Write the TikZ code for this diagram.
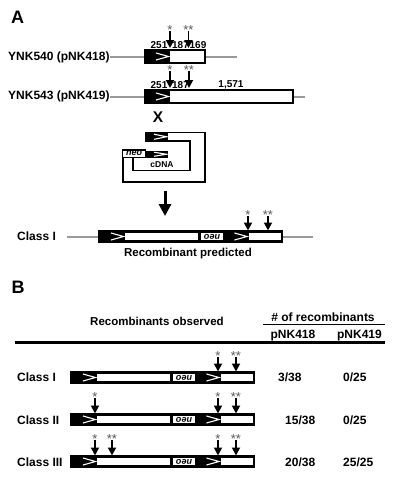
\documentclass[tikz,border=0pt]{standalone}
\usepackage{fontspec}
\setmainfont{Liberation Sans}
\usetikzlibrary{arrows.meta}
\tikzset{
 lbl/.style={font=\fontsize{12}{14}\selectfont\bfseries, inner sep=0pt},
 num/.style={font=\fontsize{10}{12}\selectfont\bfseries, inner sep=0pt},
 star/.style={font=\fontsize{13}{15}\selectfont, text=black!65, inner sep=0pt, anchor=base},
 grayline/.style={draw=black!40, line width=2pt},
 sarrow/.style={-{Triangle[width=8pt,length=8pt]}, line width=1.8pt},
 chevron/.style={draw=white, line width=1.1pt, line join=miter},
 neotxt/.style={font=\fontsize{9}{10}\selectfont\bfseries\itshape, inner sep=0pt},
 loopline/.style={line width=1.3pt},
}
\newcommand{\mkchev}[3]{\draw[chevron] ({#1-14},{#2+(#3-#2)*0.23}) -- ({#1-1.5},{(#2+#3)/2}) -- ({#1-14},{#3-(#3-#2)*0.23});}
\newcommand{\topgene}[3]{%
 \fill[white] (#1,#3) rectangle (#2,{#3+13});
 \fill[black] (#1,#3) rectangle ({#1+25},{#3+13});
 \mkchev{#1+25}{#3}{#3+13}
 \draw[line width=1.5pt] (#1,#3) rectangle (#2,{#3+13});
}
\newcommand{\clbar}[2]{%
 \fill[black] (#1,#2) rectangle ({#1+185},{#2+13});
 \fill[white] ({#1+27},{#2+2.7}) rectangle ({#1+100},{#2+10.3});
 \fill[white] ({#1+150.5},{#2+2.7}) rectangle ({#1+182.5},{#2+10.3});
 \fill[white] ({#1+103},{#2+3.2}) rectangle ({#1+125},{#2+9.8});
 \node[neotxt, rotate=180] at ({#1+114},{#2+6.5}) {neo};
 \mkchev{#1+27}{#2}{#2+13}
 \mkchev{#1+150.5}{#2}{#2+13}
}
\begin{document}
\begin{tikzpicture}[x=1pt,y=-1pt]
\useasboundingbox (0,0) rectangle (403,480);
% ---------- A ----------
\node[font=\fontsize{18}{20}\selectfont\bfseries, inner sep=0pt] (A) at (17.5,17) {A};
% row 1
\node[lbl, anchor=west] (l540) at (8,57.5) {YNK540 (pNK418)};
\coordinate (e540) at (237,56.5);
\draw[grayline] (l540.east |- 0,56.5) -- (e540);
\topgene{145}{205}{50}
\node[num] (n1a) at (159,45) {251};
\node[num] (n1b) at (180.5,45) {187};
\node[num] (n1c) at (198,45) {169};
\draw[sarrow] (170,31) -- (170,48);
\draw[sarrow] (188.5,31) -- (188.5,48);
\node[star] (s1a) at (170,34) {*};
\node[star] (s1b) at (188.5,34) {**};
% row 2
\node[lbl, anchor=west] (l543) at (8,96.5) {YNK543 (pNK419)};
\coordinate (e543) at (305,96.5);
\draw[grayline] (l543.east |- 0,96.5) -- (e543);
\topgene{145}{293}{90}
\node[num] (n2a) at (159,85) {251};
\node[num] (n2b) at (180.5,85) {187};
\node[num] (n2c) at (231,85) {1,571};
\draw[sarrow] (170,71) -- (170,88);
\draw[sarrow] (189,71) -- (189,88);
\node[star] (s2a) at (170,74) {*};
\node[star] (s2b) at (189,74) {**};
% X
\node[font=\fontsize{15.5}{17}\selectfont\bfseries, inner sep=0pt] (X) at (158,117) {X};
% plasmid construct
\fill[black] (145,132) rectangle (168,141.5);
\mkchev{168}{132}{141.5}
\draw[loopline] (167.5,132.6) -- (205,132.6) -- (205,182) -- (123,182) -- (123,158);
\draw[loopline] (167.5,140.9) -- (190,140.9) -- (190,170.5) -- (133,170.5) -- (133,158);
\node[draw, line width=1.1pt, fill=white, minimum width=23pt, minimum height=7.5pt, inner sep=0pt, anchor=south west] (neo) at (122,158) {};
\node[font=\fontsize{9}{10}\selectfont\bfseries\itshape, inner sep=0pt] (neot) at ([yshift=0.3pt]neo.center) {neo};
\fill[black] (145,150.5) rectangle (168,158);
\mkchev{168}{150.5}{158}
\node[font=\fontsize{8.5}{10}\selectfont\bfseries, inner sep=0pt] (cdna) at (162,165) {cDNA};
% big arrow
\coordinate (ba1) at (165,191);
\coordinate (ba2) at (165,216);
\draw[-{Triangle[width=12pt,length=12pt]}, line width=3pt] (ba1) -- (ba2);
% Class I predicted
\node[lbl, anchor=west] (cl0) at (17,236.5) {Class I};
\coordinate (g0a) at (67,236.5);
\coordinate (g0b) at (313,236.5);
\draw[grayline] (g0a) -- (g0b);
\clbar{98}{230}
\draw[sarrow] (248,216) -- (248,230.5);
\draw[sarrow] (268,216) -- (268,230.5);
\node[star] (s0a) at (248,219) {*};
\node[star] (s0b) at (268,219) {**};
\node[font=\fontsize{11.5}{13}\selectfont\bfseries, inner sep=0pt] (rp) at (188,253.5) {Recombinant predicted};
% ---------- B ----------
\node[font=\fontsize{18}{20}\selectfont\bfseries, inner sep=0pt] (B) at (18,287) {B};
\node[font=\fontsize{11.5}{13}\selectfont\bfseries, inner sep=0pt] (ro) at (157,321.5) {Recombinants observed};
\node[lbl] (nr) at (323,317) {\# of recombinants};
\coordinate (u1) at (263,324.5);
\coordinate (u2) at (385,324.5);
\draw[line width=1.6pt] (u1) -- (u2);
\node[lbl] (p418) at (293,335.5) {pNK418};
\node[lbl] (p419) at (359.5,335.5) {pNK419};
\coordinate (r1) at (15,342.5);
\coordinate (r2) at (385,342.5);
\draw[line width=2.8pt] (r1) -- (r2);
% Class I
\node[lbl, anchor=west] (c1) at (17,377) {Class I};
\clbar{70}{371}
\draw[sarrow] (218,357) -- (218,371.5);
\draw[sarrow] (236,357) -- (236,371.5);
\node[star] (s11) at (218,360) {*};
\node[star] (s12) at (236,360) {**};
\node[lbl, anchor=west] (v11) at (278,377.5) {3/38};
\node[lbl, anchor=west] (v12) at (343,377.5) {0/25};
% Class II
\node[lbl, anchor=west] (c2) at (17,420) {Class II};
\clbar{70}{413}
\draw[sarrow] (95,398) -- (95,413.5);
\draw[sarrow] (218,398) -- (218,413.5);
\draw[sarrow] (236,398) -- (236,413.5);
\node[star] (s21) at (95,401) {*};
\node[star] (s22) at (218,401) {*};
\node[star] (s23) at (236,401) {**};
\node[lbl, anchor=west] (v21) at (285,420.5) {15/38};
\node[lbl, anchor=west] (v22) at (343,420.5) {0/25};
% Class III
\node[lbl, anchor=west] (c3) at (17,462) {Class III};
\clbar{70}{455}
\draw[sarrow] (95,440) -- (95,455.5);
\draw[sarrow] (112,440) -- (112,455.5);
\draw[sarrow] (218,440) -- (218,455.5);
\draw[sarrow] (236,440) -- (236,455.5);
\node[star] (s31) at (95,443) {*};
\node[star] (s32) at (112,443) {**};
\node[star] (s33) at (218,443) {*};
\node[star] (s34) at (236,443) {**};
\node[lbl, anchor=west] (v31) at (285,462.5) {20/38};
\node[lbl, anchor=west] (v32) at (343,462.5) {25/25};
\end{tikzpicture}
\end{document}
